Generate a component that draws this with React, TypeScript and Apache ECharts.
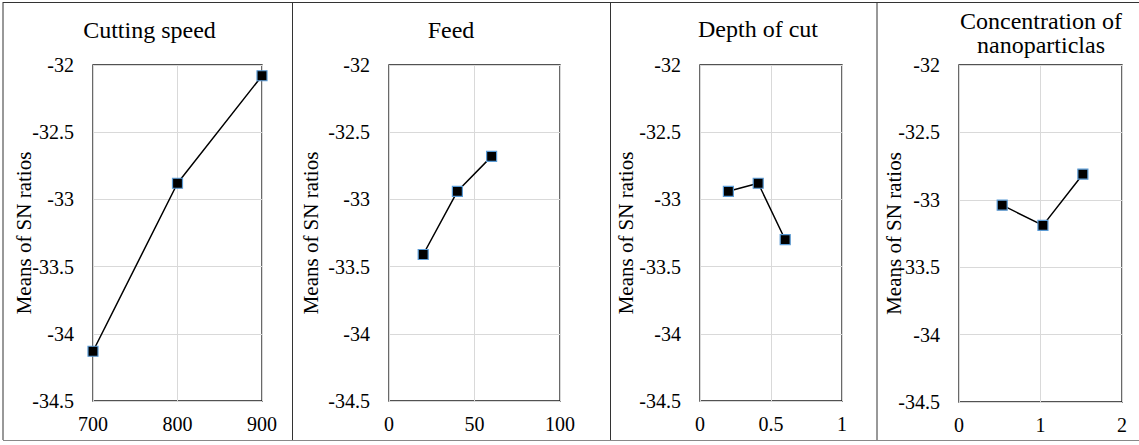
import React, { useEffect, useRef } from "react";
import * as echarts from "echarts";

const panelTitles = ["Cutting speed", "Feed", "Depth of cut", "Concentration of\nnanoparticlas"];
const yAxisName = "Means of SN ratios";

const cuttingSpeed = [700, 800, 900];
const cuttingSN = [-34.13, -32.88, -32.08];

const feed = [20, 40, 60];
const feedSN = [-33.41, -32.94, -32.68];

const depthOfCut = [0.2, 0.41, 0.6];
const depthSN = [-32.94, -32.88, -33.3];

const concentration = [0.53, 1.03, 1.52];
const concentrationSN = [-33.04, -33.19, -32.81];

const xRanges = [
  { min: 700, max: 900, interval: 100 },
  { min: 0, max: 100, interval: 50 },
  { min: 0, max: 1, interval: 0.5 },
  { min: 0, max: 2, interval: 1 },
];
const yMin = -34.5;
const yMax = -32;
const yInterval = 0.5;

const FONT = "Liberation Serif";

export default function App() {
  const ref = useRef<HTMLDivElement>(null);
  useEffect(() => {
    document.body.style.margin = "0";
    if (!ref.current) return;
    const chart = echarts.init(ref.current, null, { renderer: "svg" });

    const xs = [cuttingSpeed, feed, depthOfCut, concentration];
    const ys = [cuttingSN, feedSN, depthSN, concentrationSN];

    const grids = [
      { left: 93, top: 65, width: 169, height: 336 },
      { left: 389, top: 65, width: 171, height: 336 },
      { left: 700, top: 65, width: 142, height: 336 },
      { left: 959, top: 65, width: 163, height: 337 },
    ];
    const nameGaps = [59, 68, 64, 55];
    const titlePos = [
      [149.5, 30],
      [451, 30],
      [758, 29],
      [1041, 33],
    ];

    const option: any = {
      animation: false,
      backgroundColor: "#ffffff",
      textStyle: { fontFamily: FONT },
      grid: grids.map((g) => ({
        ...g,
        show: true,
        borderColor: "#1a1a1a",
        borderWidth: 1.3,
        backgroundColor: "transparent",
        containLabel: false,
      })),
      xAxis: xRanges.map((r, i) => ({
        type: "value",
        gridIndex: i,
        min: r.min,
        max: r.max,
        interval: r.interval,
        axisLine: { show: false },
        axisTick: { show: false },
        splitLine: { show: true, lineStyle: { color: "#d9d9d9", width: 1 } },
        axisLabel: {
          color: "#000",
          fontFamily: FONT,
          fontSize: 20,
          margin: 13,
        },
      })),
      yAxis: xRanges.map((_, i) => ({
        type: "value",
        gridIndex: i,
        min: yMin,
        max: yMax,
        interval: yInterval,
        name: yAxisName,
        nameLocation: "middle",
        nameRotate: 90,
        nameGap: nameGaps[i],
        nameMoveOverlap: false,
        nameTextStyle: { color: "#000", fontFamily: FONT, fontSize: 21 },
        axisLine: { show: false },
        axisTick: { show: false },
        splitLine: { show: true, lineStyle: { color: "#d9d9d9", width: 1 } },
        axisLabel: {
          color: "#000",
          fontFamily: FONT,
          fontSize: 20,
          margin: 19,
        },
      })),
      series: xs.map((xv, i) => ({
        type: "line",
        xAxisIndex: i,
        yAxisIndex: i,
        data: xv.map((x, j) => [x, ys[i][j]]),
        symbol: "rect",
        symbolSize: 10,
        lineStyle: { color: "#000", width: 1.5 },
        itemStyle: { color: "#000", borderColor: "#5b9bd5", borderWidth: 1.2 },
        z: 5,
      })),
      graphic: [
        { type: "line", shape: { x1: 3, y1: 2.5, x2: 1139, y2: 2.5 }, style: { stroke: "#333", lineWidth: 1 } },
        { type: "line", shape: { x1: 3, y1: 2, x2: 3, y2: 440 }, style: { stroke: "#333", lineWidth: 1 } },
        { type: "line", shape: { x1: 3, y1: 440.5, x2: 1139, y2: 440.5 }, style: { stroke: "#888", lineWidth: 1 } },
        { type: "line", shape: { x1: 292.5, y1: 2, x2: 292.5, y2: 440 }, style: { stroke: "#333", lineWidth: 1 } },
        { type: "line", shape: { x1: 610.5, y1: 2, x2: 610.5, y2: 440 }, style: { stroke: "#333", lineWidth: 1 } },
        { type: "line", shape: { x1: 877, y1: 2, x2: 877, y2: 440 }, style: { stroke: "#333", lineWidth: 1 } },
        ...panelTitles.map((t, i) => ({
          type: "text",
          x: titlePos[i][0],
          y: titlePos[i][1],
          style: {
            text: t,
            align: "center",
            verticalAlign: "middle",
            fontFamily: FONT,
            fontSize: 24,
            lineHeight: 24,
            fill: "#000",
          },
        })),
      ],
    };
    chart.setOption(option);
    return () => chart.dispose();
  }, []);
  return <div ref={ref} style={{ width: 1139, height: 445 }} />;
}
